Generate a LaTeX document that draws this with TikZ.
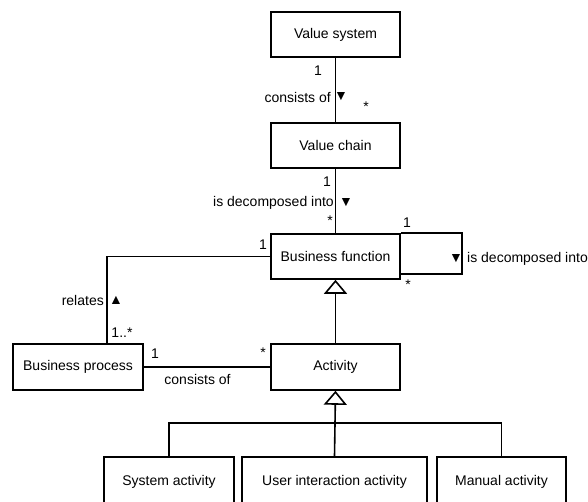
\documentclass[tikz,border=0pt]{standalone}
\usepackage{fontspec}
\setmainfont{Liberation Sans}
\usetikzlibrary{arrows.meta}
\begin{document}
\begin{tikzpicture}[x=1pt,y=-1pt,
  every node/.style={font=\fontsize{14}{16}\selectfont},
  cls/.style={draw, line width=1.6pt, inner sep=0pt, minimum width=129pt, minimum height=45pt},
  lbl/.style={inner sep=0pt},
  link/.style={line width=1.6pt},
  gen/.style={link, -{Triangle[open, width=23pt, length=14pt, line width=1.6pt]}}]
\useasboundingbox (0,0) rectangle (588,501);
\clip (0,0) rectangle (588,501);

% classes
\node[cls] (vs) at (335.5,34.5) {Value system};
\node[cls] (vc) at (335.5,145.5) {Value chain};
\node[cls] (bf) at (335.5,256.5) {Business function};
\node[cls, minimum height=46pt] (act) at (335.5,367) {Activity};
\node[cls, minimum width=130pt, minimum height=46pt] (bp) at (78,367) {Business process};
\node[cls, minimum width=130pt, minimum height=50pt] (sys) at (169,482) {System activity};
\node[cls, minimum width=185pt, minimum height=50pt] (usr) at (334.5,482) {User interaction activity};
\node[cls, minimum height=50pt] (man) at (501.5,482) {Manual activity};

% associations
\draw[link] (vs.south) -- (vc.north);
\draw[link] (vc.south) -- (bf.north);
\draw[link] (bf.north east) -- ++(61,0) |- ([yshift=6pt]bf.south east);
\draw[link] (bf.west) -| ([xshift=29pt]bp.north);
\draw[link] (bp.east) -- (act.west);

% generalizations
\coordinate (hub) at (335,423);
\draw[gen] (act.north) -- (bf.south);
\draw[link] (sys.north) |- (hub);
\draw[link] (man.north) |- (hub);
\draw[gen] (usr.north) -- (act.south);

% association labels
\node[lbl] (m1) at (318,71) {1};
\node[lbl, anchor=east] (r1) at (331,97) {consists of};
\node[lbl] (d1) at (341,97) {▼};
\node[lbl] (m2) at (366,107) {*};

\node[lbl] (m3) at (327,182) {1};
\node[lbl, anchor=east] (r2) at (334,203) {is decomposed into};
\node[lbl] (d2) at (346,203) {▼};
\node[lbl] (m4) at (330,221) {*};

\node[lbl] (m5) at (407,223) {1};
\node[lbl] (d3) at (456,259) {▼};
\node[lbl, anchor=west] (r3) at (467,259) {is decomposed into};
\node[lbl] (m6) at (408,285) {*};

\node[lbl] (m7) at (263,245) {1};
\node[lbl, anchor=east] (r4) at (104,300) {relates};
\node[lbl] (d4) at (116,300) {▲};
\node[lbl] (m8) at (122,333) {1..*};

\node[lbl] (m9) at (155,354) {1};
\node[lbl] (m10) at (263,353) {*};
\node[lbl] (r5) at (197.5,379) {consists of};
\end{tikzpicture}
\end{document}
